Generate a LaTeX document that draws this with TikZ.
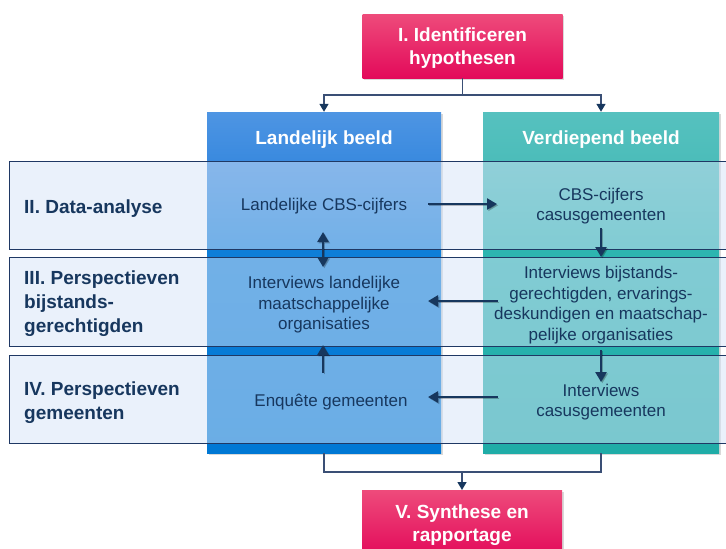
\documentclass[tikz,border=0pt]{standalone}
\usepackage{fontspec}
\setmainfont{Liberation Sans}
\usetikzlibrary{arrows.meta,calc,shadows}
\definecolor{navy}{HTML}{17375E}
\definecolor{rowline}{HTML}{1F3864}
\definecolor{rowfill}{RGB}{213,227,247}
\definecolor{connc}{HTML}{3A4F75}
\definecolor{pinkT}{HTML}{EE4B7B}
\definecolor{pinkB}{HTML}{E30A5A}
\definecolor{bA}{HTML}{4E95E3}
\definecolor{bB}{HTML}{3A8ADF}
\definecolor{bC}{HTML}{0E7ED8}
\definecolor{bD}{HTML}{0078D4}
\definecolor{tA}{HTML}{56C1BF}
\definecolor{tB}{HTML}{4CBDBA}
\definecolor{tC}{HTML}{2DB5B0}
\definecolor{tD}{HTML}{1FACA7}
\pgfdeclareverticalshading{blueshade}{100bp}{color(0bp)=(bD); color(25bp)=(bD); color(54.5bp)=(bC); color(68bp)=(bB); color(75bp)=(bA); color(100bp)=(bA)}
\pgfdeclareverticalshading{tealshade}{100bp}{color(0bp)=(tD); color(25bp)=(tD); color(54.5bp)=(tC); color(68bp)=(tB); color(75bp)=(tA); color(100bp)=(tA)}
\tikzset{
  colbox/.style={minimum height=341pt, inner sep=0pt, draw=none,
    drop shadow={opacity=0.3, shadow xshift=1.5pt, shadow yshift=-1.5pt}},
  rowband/.style={fill=rowfill, fill opacity=0.5, draw=rowline, line width=0.9pt,
    minimum width=725pt, inner sep=0pt, anchor=north west},
  pinkbox/.style={top color=pinkT, bottom color=pinkB, minimum width=200pt, inner sep=0pt,
    text=white, font=\fontsize{19}{23}\selectfont\bfseries, align=center,
    drop shadow={opacity=0.3, shadow xshift=1.5pt, shadow yshift=-1.5pt}},
  hdr/.style={text=white, font=\fontsize{19}{23}\selectfont\bfseries, inner sep=0pt},
  lbl/.style={text=navy, font=\fontsize{19}{24}\selectfont\bfseries, align=left, anchor=west, inner sep=0pt},
  ctext/.style={text=navy, font=\fontsize{17}{20.5}\selectfont, align=center, inner sep=0pt},
  conn/.style={draw=connc, line width=1.4pt},
  conntip/.style={conn, -{Triangle[length=8pt,width=9pt,fill=navy,color=navy]}},
  shd/.style={preaction={draw=black, opacity=0.25, transform canvas={shift={(1.3pt,-1.3pt)}}}},
  arr/.style={shd, draw=navy, line width=2.6pt, -{Triangle[length=10pt,width=11pt]}},
  darr/.style={shd, draw=navy, line width=2.6pt, {Triangle[length=10pt,width=11pt]}-{Triangle[length=10pt,width=11pt]}},
}
\begin{document}
\begin{tikzpicture}[x=1pt,y=-1pt]
\useasboundingbox (0,0) rectangle (726,549);
\clip (0,0) rectangle (726,549);
% pink boxes
\node[pinkbox, minimum height=64pt, text depth=-3pt] (top) at (462.5,46) {I. Identificeren\\hypothesen};
\node[pinkbox, minimum height=66pt, anchor=north, text depth=-3pt] (bot) at (462,490) {V. Synthese en\\rapportage};
% columns
\node[colbox, minimum width=234pt, shading=blueshade] (colL) at (324,282.5) {};
\node[colbox, minimum width=236pt, shading=tealshade] (colR) at (601,282.5) {};
% row bands
\node[rowband, minimum height=88pt] (row2) at (9,161) {};
\node[rowband, minimum height=89pt] (row3) at (9,257) {};
\node[rowband, minimum height=88pt] (row4) at (9,355) {};
% headers
\node[hdr] (hL) at (324,140) {Landelijk beeld};
\node[hdr] (hR) at (601,140) {Verdiepend beeld};
% row labels
\node[lbl] (l2) at (24,209) {II. Data-analyse};
\node[lbl] (l3) at (24,304) {III. Perspectieven\\bijstands-\\gerechtigden};
\node[lbl] (l4) at (24,403) {IV. Perspectieven\\gemeenten};
% column texts
\node[ctext] (cbsL) at (324,206) {Landelijke CBS-cijfers};
\node[ctext] (cbsR) at (601,206) {CBS-cijfers\\casusgemeenten};
\node[ctext] (intL) at (324,305) {Interviews landelijke\\maatschappelijke\\organisaties};
\node[ctext] (intR) at (601,305) {Interviews bijstands-\\gerechtigden, ervarings-\\deskundigen en maatschap-\\pelijke organisaties};
\node[ctext] (enqL) at (331,402) {Enquête gemeenten};
\node[ctext] (intvR) at (601,402) {Interviews\\casusgemeenten};
% connectors
\coordinate (j1) at (462.5,95);
\draw[conn] (top.south) -- (j1);
\draw[conntip] (j1) -| (colL.north);
\draw[conntip] (j1) -| (colR.north);
\coordinate (j2) at (462,472);
\draw[conn] (colL.south) |- (j2) -| (colR.south);
\draw[conntip] (j2) -- (bot.north);
% arrows
\draw[arr] ($(cbsL.center)+(104,-2)$) -- ($(cbsR.center)+(-104,-2)$);
\draw[darr] ($(cbsL.center)+(-1,26)$) -- ($(intL.center)+(-1,-38)$);
\draw[arr] ($(enqL.center)+(-8,-29)$) -- ($(intL.center)+(-1,40)$);
\draw[arr] ($(cbsR.center)+(0,22)$) -- ($(intR.center)+(0,-48)$);
\draw[arr] ($(intR.center)+(-103,-4)$) -- ($(intL.center)+(104,-4)$);
\draw[arr] ($(intR.center)+(0,45)$) -- ($(intvR.center)+(0,-20)$);
\draw[arr] ($(intvR.center)+(-103,-5)$) -- ($(enqL.center)+(97,-5)$);
\end{tikzpicture}
\end{document}
